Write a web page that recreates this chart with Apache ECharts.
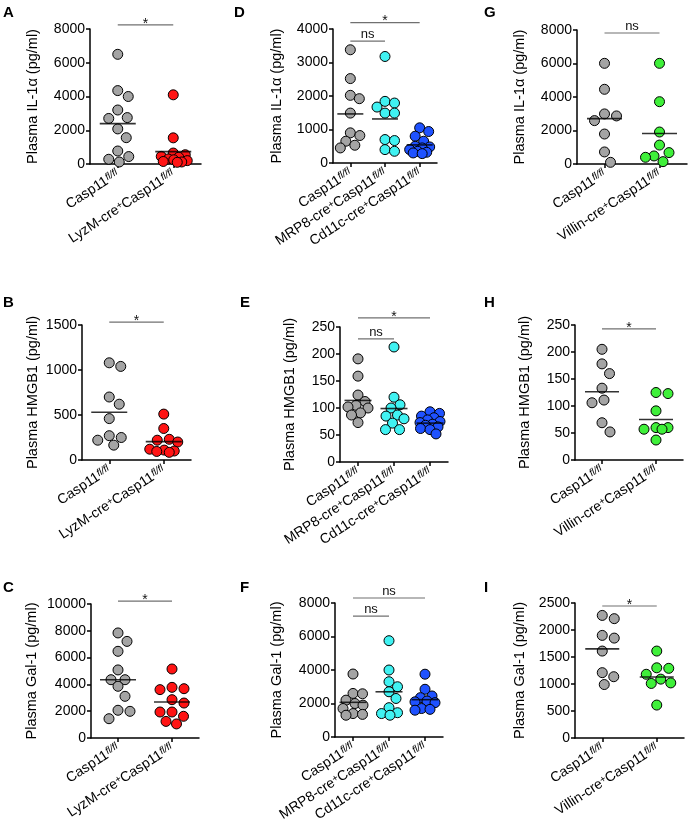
<!DOCTYPE html>
<html><head><meta charset="utf-8">
<script src="https://cdn.jsdelivr.net/npm/echarts@6/dist/echarts.min.js"></script>
<style>html,body{margin:0;padding:0;background:#fff}#c{width:689px;height:825px}</style>
</head><body><div id="c"></div>
<script>
// ---- categories ----
const catsLyz = ['Casp11<sup>fl/fl</sup>', 'LyzM-cre<sup>+</sup>Casp11<sup>fl/fl</sup>'];
const catsMC  = ['Casp11<sup>fl/fl</sup>', 'MRP8-cre<sup>+</sup>Casp11<sup>fl/fl</sup>', 'Cd11c-cre<sup>+</sup>Casp11<sup>fl/fl</sup>'];
const catsVil = ['Casp11<sup>fl/fl</sup>', 'Villin-cre<sup>+</sup>Casp11<sup>fl/fl</sup>'];
const nameIL = 'Plasma IL-1α (pg/ml)';
const nameHM = 'Plasma HMGB1 (pg/ml)';
const nameGal = 'Plasma Gal-1 (pg/ml)';

// ---- Panel A ----
const aCasp = [6500, 4350, 4000, 3200, 2750, 2700, 2080, 1560, 770, 440, 280, 120];
const aLyz  = [4100, 1550, 650, 550, 450, 400, 300, 250, 200, 150, 120, 100];
const aMeans = [2390, 735];
const aBrackets = [[0, 1, 8250, '*']];
// ---- Panel B ----
const bCasp = [1080, 1040, 700, 620, 460, 270, 250, 220, 165];
const bLyz  = [510, 350, 230, 220, 200, 120, 110, 100, 95, 85];
const bMeans = [530, 204];
const bBrackets = [[0, 1, 1533, '*']];
// ---- Panel C ----
const cCasp = [7840, 7210, 6470, 5080, 4350, 4350, 3860, 3110, 2070, 1990, 1440];
const cLyz  = [5150, 3780, 3680, 3610, 2860, 2610, 1940, 1940, 1620, 1240, 1050];
const cMeans = [4350, 2690];
const cBrackets = [[0, 1, 10220, '*']];
// ---- Panel D ----
const dCasp = [3380, 2520, 2020, 1920, 1490, 900, 820, 650, 530, 450];
const dMrp  = [3180, 1840, 1790, 1670, 1490, 1490, 700, 670, 400, 350];
const dCd   = [1050, 940, 800, 650, 500, 480, 450, 400, 350, 320, 300, 280];
const dMeans = [1465, 1315, 540];
const dBrackets = [[0, 1, 3640, 'ns'], [0, 2, 4190, '*']];
// ---- Panel E ----
const eCasp = [191, 159, 124, 112, 105, 102, 100, 91, 87, 73];
const eMrp  = [213, 120, 106, 100, 87, 85, 80, 72, 60, 60];
const eCd   = [93, 90, 85, 82, 78, 75, 73, 70, 68, 65, 62, 60, 52];
const eMeans = [114, 99, 72];
const eBrackets = [[0, 1, 228, 'ns'], [0, 2, 267, '*']];
// ---- Panel F ----
const fCasp = [3760, 2600, 2580, 2200, 2000, 1900, 1700, 1400, 1350, 1300];
const fMrp  = [5750, 4000, 3300, 3000, 2700, 2300, 1750, 1450, 1400, 1300];
const fCd   = [3750, 2850, 2450, 2350, 2150, 2100, 2050, 1700, 1650, 1600];
const fMeans = [2070, 2700, 2230];
const fBrackets = [[0, 1, 7220, 'ns'], [0, 2, 8300, 'ns']];
// ---- Panel G ----
const gCasp = [6010, 4460, 2990, 2870, 2590, 1790, 720, 100];
const gVil  = [6010, 3720, 1910, 1130, 680, 480, 400, 140];
const gMeans = [2710, 1820];
const gBrackets = [[0, 1, 7820, 'ns']];
// ---- Panel H ----
const hCasp = [205, 178, 160, 133, 111, 106, 69, 52];
const hVil  = [125, 123, 91, 60, 60, 57, 57, 37];
const hMeans = [126.5, 75];
const hBrackets = [[0, 1, 243, '*']];
// ---- Panel I ----
const iCasp = [2270, 2210, 1900, 1850, 1610, 1210, 1135, 990];
const iVil  = [1610, 1300, 1290, 1180, 1090, 1020, 1010, 610];
const iMeans = [1650, 1130];
const iBrackets = [[0, 1, 2444, '*']];

// ---- axis scales ----
const yMaxes = {A: 8000, B: 1500, C: 10000, D: 4000, E: 250, F: 8000, G: 8000, H: 250, I: 2500};
const yIntervals = {A: 2000, B: 500, C: 2000, D: 1000, E: 50, F: 2000, G: 2000, H: 50, I: 500};

// ---- styles ----
const GRAY = '#a4a4a4', RED = '#ff1414', CYAN = '#40f2f2', BLUE = '#1f52ff', GREEN = '#3ff03a';
const FONT = 'Liberation Sans';

const panels = [
  {id: 'A', cats: catsLyz, groups: [aCasp, aLyz], means: aMeans, brackets: aBrackets, yName: nameIL, colors: [GRAY, RED]},
  {id: 'B', cats: catsLyz, groups: [bCasp, bLyz], means: bMeans, brackets: bBrackets, yName: nameHM, colors: [GRAY, RED]},
  {id: 'C', cats: catsLyz, groups: [cCasp, cLyz], means: cMeans, brackets: cBrackets, yName: nameGal, colors: [GRAY, RED]},
  {id: 'D', cats: catsMC, groups: [dCasp, dMrp, dCd], means: dMeans, brackets: dBrackets, yName: nameIL, colors: [GRAY, CYAN, BLUE]},
  {id: 'E', cats: catsMC, groups: [eCasp, eMrp, eCd], means: eMeans, brackets: eBrackets, yName: nameHM, colors: [GRAY, CYAN, BLUE]},
  {id: 'F', cats: catsMC, groups: [fCasp, fMrp, fCd], means: fMeans, brackets: fBrackets, yName: nameGal, colors: [GRAY, CYAN, BLUE]},
  {id: 'G', cats: catsVil, groups: [gCasp, gVil], means: gMeans, brackets: gBrackets, yName: nameIL, colors: [GRAY, GREEN]},
  {id: 'H', cats: catsVil, groups: [hCasp, hVil], means: hMeans, brackets: hBrackets, yName: nameHM, colors: [GRAY, GREEN]},
  {id: 'I', cats: catsVil, groups: [iCasp, iVil], means: iMeans, brackets: iBrackets, yName: nameGal, colors: [GRAY, GREEN]}
];

// layout (pixels)
const layout = {
  A: {left: 90, top: 29, width: 111, height: 135, gap: 50, lx: 3, ly: 5, meanW: 36, sw: 12, sh: 14},
  B: {left: 82, top: 325, width: 109, height: 135, gap: 42, lx: 3, ly: 295, meanW: 36, sw: 12, sh: 14},
  C: {left: 91, top: 604, width: 108, height: 134, gap: 52, lx: 3, ly: 580, meanW: 36, sw: 12, sh: 14},
  D: {left: 333, top: 29, width: 104, height: 134, gap: 49, lx: 234, ly: 5, meanW: 26, sw: 9.5, sh: 10},
  E: {left: 340, top: 327, width: 108, height: 135, gap: 43, lx: 240, ly: 295, meanW: 27, sw: 9.5, sh: 10},
  F: {left: 335, top: 603, width: 108, height: 134, gap: 51, lx: 240, ly: 580, meanW: 27, sw: 9.5, sh: 10},
  G: {left: 577, top: 30, width: 110, height: 134, gap: 50, lx: 484, ly: 5, meanW: 35, sw: 12, sh: 14},
  H: {left: 575, top: 325, width: 108, height: 135, gap: 43, lx: 484, ly: 295, meanW: 34, sw: 12, sh: 14},
  I: {left: 575, top: 603, width: 109, height: 135, gap: 48, lx: 484, ly: 580, meanW: 34, sw: 12, sh: 14}
};

function catFmt(v) { return v.replace(/<sup>(.*?)<\/sup>/g, '{s|$1}'); }

// beeswarm: horizontal offsets (px) from pixel y positions, capped half-width W
function swarm(pys, D, W) {
  const order = pys.map((y, i) => i).sort((a, b) => pys[a] - pys[b]);
  const placed = []; const off = new Array(pys.length).fill(0);
  const xs = [];
  for (let x = 0; x <= W + 1e-9; x += 0.5) { if (x === 0) xs.push(0); else xs.push(x, -x); }
  for (const i of order) {
    const y = pys[i];
    let best = 0, found = false, bestMd = -1;
    for (const x of xs) {
      let md = Infinity;
      for (const p of placed) md = Math.min(md, Math.hypot(p.x - x, p.y - y));
      if (md >= D - 0.01) { best = x; found = true; break; }
      if (md > bestMd + 0.01) { bestMd = md; best = x; }
    }
    placed.push({x: best, y}); off[i] = best;
  }
  return off;
}

const chart = echarts.init(document.getElementById('c'), null, {renderer: 'canvas'});
const axisLineStyle = {color: '#000', width: 1.5};

function build(offsets) {
  const grid = [], xAxis = [], yAxis = [], series = [], title = [];
  panels.forEach((p, k) => {
    const L = layout[p.id];
    grid.push({left: L.left, top: L.top, width: L.width, height: L.height, containLabel: false, outerBoundsMode: 'none'});
    title.push({text: p.id, left: L.lx, top: L.ly, padding: 0,
      textStyle: {fontSize: 15, fontWeight: 'bold', color: '#000', fontFamily: FONT}});
    xAxis.push({type: 'category', gridIndex: k, data: p.cats, boundaryGap: true,
      axisLine: {show: true, lineStyle: axisLineStyle},
      axisTick: {show: true, alignWithLabel: true, length: 4, lineStyle: axisLineStyle},
      axisLabel: {interval: 0, rotate: 33, margin: 9, color: '#000', fontSize: 14, fontFamily: FONT,
        formatter: catFmt,
        rich: {s: {fontSize: 10, verticalAlign: 'top', fontStyle: 'italic', color: '#000', fontFamily: FONT}}},
      splitLine: {show: false}});
    yAxis.push({type: 'value', gridIndex: k, min: 0, max: yMaxes[p.id], interval: yIntervals[p.id],
      name: p.yName, nameLocation: 'middle', nameGap: L.gap, nameRotate: 90, nameMoveOverlap: false,
      nameTextStyle: {fontSize: 14.5, color: '#000', fontFamily: FONT},
      axisLine: {show: true, lineStyle: axisLineStyle},
      axisTick: {show: true, length: 4, lineStyle: axisLineStyle},
      axisLabel: {color: '#000', fontSize: 14, margin: 5, fontFamily: FONT, formatter: v => String(v)},
      splitLine: {show: false}});
    p.groups.forEach((vals, gi) => {
      const off = offsets ? offsets[k][gi] : vals.map(() => 0);
      series.push({type: 'scatter', xAxisIndex: k, yAxisIndex: k, symbol: 'circle', symbolSize: 10,
        silent: true, z: 2,
        itemStyle: {color: p.colors[gi], borderColor: '#000', borderWidth: 1, opacity: 1},
        data: vals.map((v, j) => ({value: [gi, v], symbolOffset: [off[j], 0]}))});
    });
    series.push({type: 'scatter', xAxisIndex: k, yAxisIndex: k, symbol: 'rect', symbolSize: [L.meanW, 1.6],
      silent: true, z: 5, itemStyle: {color: '#000'},
      data: p.means.map((m, gi) => [gi, m])});
    const br = p.brackets;
    series.push({type: 'custom', xAxisIndex: k, yAxisIndex: k, clip: false, silent: true, z: 6,
      data: br.map(b => [b[0], b[1], b[2]]),
      encode: {x: [0, 1], y: 2},
      renderItem: (params, api) => {
        const b = br[params.dataIndex];
        const p1 = api.coord([b[0], b[2]]), p2 = api.coord([b[1], b[2]]);
        const star = b[3] === '*';
        return {type: 'group', children: [
          {type: 'line', shape: {x1: p1[0], y1: p1[1], x2: p2[0], y2: p2[1]},
            style: {stroke: '#707070', lineWidth: 1.2}},
          {type: 'text', x: (p1[0] + p2[0]) / 2, y: p1[1] + (star ? 6 : 0),
            style: {text: b[3], align: 'center', verticalAlign: 'bottom', fill: '#111',
              font: (star ? '14px ' : '13px ') + '"Liberation Sans"'}}
        ]};
      }});
  });
  return {animation: false, backgroundColor: '#fff', title, grid, xAxis, yAxis, series};
}

chart.setOption(build(null));
const offsets = panels.map((p, k) => p.groups.map(vals => {
  const pys = vals.map(v => chart.convertToPixel({yAxisIndex: k}, v));
  return swarm(pys, layout[p.id].sw, layout[p.id].sh);
}));
chart.setOption(build(offsets), true);
</script>
</body></html>
